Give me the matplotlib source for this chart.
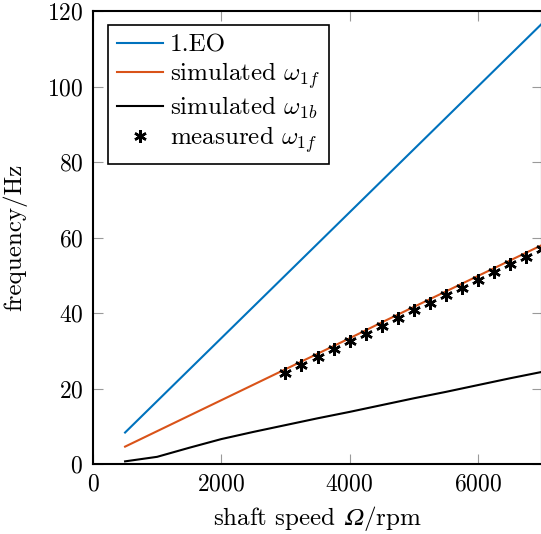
import matplotlib
matplotlib.use("Agg")
import matplotlib.pyplot as plt

plt.rcParams['font.family'] = 'serif'
plt.rcParams['font.serif'] = ['cmr10']
plt.rcParams['mathtext.fontset'] = 'cm'
plt.rcParams['axes.formatter.use_mathtext'] = True

# data
speed_sim = [500, 1000, 1500, 2000, 2500, 3000, 3500, 4000, 4500, 5000, 5500, 6000, 6500, 7000]
eo1 = [s / 60 for s in speed_sim]
sim_w1f = [4.6, 8.7, 12.8, 16.9, 21.0, 25.1, 29.2, 33.3, 37.5, 41.6, 45.7, 49.8, 53.9, 58.0]
sim_w1b = [0.7, 1.9, 4.3, 6.6, 8.5, 10.3, 12.1, 13.8, 15.6, 17.4, 19.1, 20.9, 22.7, 24.4]
speed_meas = [3000, 3250, 3500, 3750, 4000, 4250, 4500, 4750, 5000, 5250, 5500, 5750, 6000, 6250, 6500, 6750, 7000]
meas_w1f = [24.2, 26.3, 28.4, 30.5, 32.5, 34.4, 36.5, 38.6, 40.7, 42.7, 44.8, 46.7, 48.7, 50.9, 53.0, 54.9, 57.0]
xticks = [0, 2000, 4000, 6000]
yticks = [0, 20, 40, 60, 80, 100, 120]

fig = plt.figure(figsize=(5.41, 5.34), dpi=100)
ax = fig.add_axes([93/541, 70/534, 449/541, 453/534])

ax.plot(speed_sim, eo1, color='#0072BD', lw=1.5, label='1.EO')
ax.plot(speed_sim, sim_w1f, color='#D95319', lw=1.5, label=r'simulated $\omega_{1f}$')
ax.plot(speed_sim, sim_w1b, color='black', lw=1.5, label=r'simulated $\omega_{1b}$')
ax.plot(speed_meas, meas_w1f, linestyle='none', marker=(6, 2, 0), markersize=9,
        markeredgewidth=1.8, color='black', label=r'measured $\omega_{1f}$')

ax.set_xlim(0, 7000)
ax.set_ylim(0, 120)
ax.set_xticks(xticks)
ax.set_yticks(yticks)
ax.tick_params(direction='in', length=7, width=0.8, color='#9a9a9a',
               top=True, right=True, labelsize=17, pad=7)
for sp in ax.spines.values():
    sp.set_linewidth(1.5)

ax.set_xlabel('shaft speed $\U0001D6FA$/rpm', fontsize=18)
ax.set_ylabel('frequency/Hz', fontsize=18)
ax.xaxis.set_label_coords(0.5, -0.088)
ax.yaxis.set_label_coords(-0.147, 0.5)

leg = ax.legend(loc='upper left', bbox_to_anchor=(0.033, 0.969), borderaxespad=0,
                fontsize=18, frameon=True, fancybox=False, handlelength=1.84,
                handletextpad=0.3, labelspacing=0.15, borderpad=0.35)
leg.get_frame().set_edgecolor('black')
leg.get_frame().set_linewidth(1.2)
leg.get_frame().set_alpha(1)

fig.savefig('out.png', dpi=100)
